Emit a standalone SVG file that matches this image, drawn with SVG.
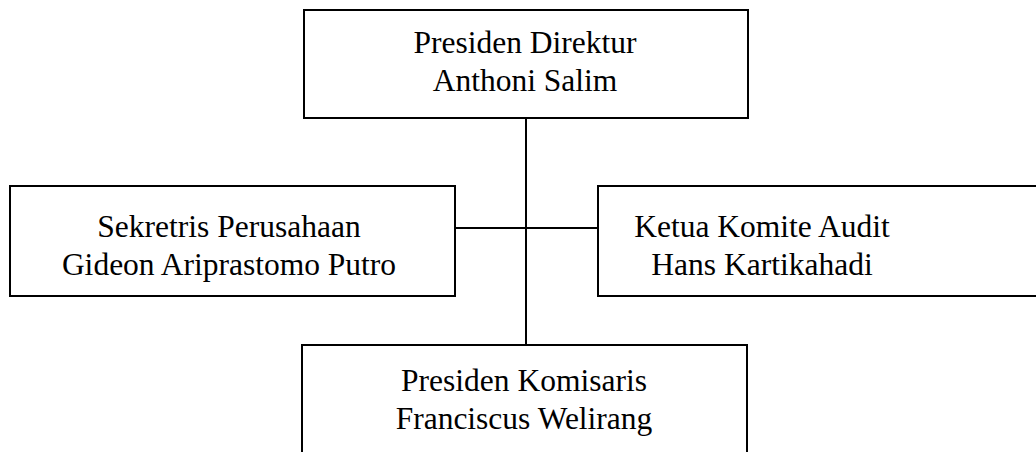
<svg xmlns="http://www.w3.org/2000/svg" width="1036" height="452" viewBox="0 0 1036 452">
  <style>
    .box { fill: #ffffff; stroke: #000000; stroke-width: 2; }
    .wire { fill: none; stroke: #000000; stroke-width: 2; }
    .label { font-family: "Liberation Serif", "Times New Roman", serif; font-size: 31.5px; fill: #000000; text-anchor: middle; }
  </style>
  <rect width="1036" height="452" fill="#ffffff"/>

  <g id="connectors">
    <line class="wire" x1="526" y1="118" x2="526" y2="345"/>
    <line class="wire" x1="455" y1="228" x2="598" y2="228"/>
  </g>

  <g id="presiden-direktur">
    <rect class="box" x="304" y="10" width="444" height="108"/>
    <text class="label" x="525" y="53">Presiden Direktur</text>
    <text class="label" x="525" y="91">Anthoni Salim</text>
  </g>

  <g id="sekretaris-perusahaan">
    <rect class="box" x="10" y="186" width="445" height="110"/>
    <text class="label" x="229" y="237">Sekretris Perusahaan</text>
    <text class="label" x="229" y="275">Gideon Ariprastomo Putro</text>
  </g>

  <g id="ketua-komite-audit">
    <rect class="box" x="598" y="186" width="460" height="110"/>
    <text class="label" x="762" y="237">Ketua Komite Audit</text>
    <text class="label" x="762" y="275">Hans Kartikahadi</text>
  </g>

  <g id="presiden-komisaris">
    <rect class="box" x="302" y="345" width="445" height="130"/>
    <text class="label" x="524" y="391">Presiden Komisaris</text>
    <text class="label" x="524" y="429">Franciscus Welirang</text>
  </g>
</svg>
